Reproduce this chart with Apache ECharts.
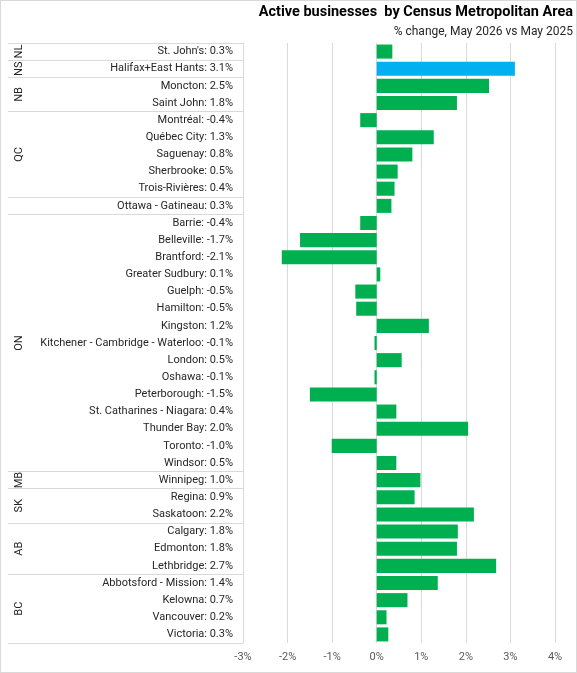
<!DOCTYPE html>
<html>
<head>
<meta charset="utf-8">
<script src="https://cdn.jsdelivr.net/npm/echarts@6/dist/echarts.min.js"></script>
<style>
  html, body { margin: 0; padding: 0; background: #fff; }
  #wrap { position: relative; width: 577px; height: 673px; }
  #chart { width: 577px; height: 673px; }
  #frame { position: absolute; left: 0; top: 0; width: 577px; height: 673px; box-sizing: border-box; border: 1px solid #d9d9d9; pointer-events: none; }
</style>
</head>
<body>
<div id="wrap"><div id="chart"></div><div id="frame"></div></div>
<script>
// Categories (top to bottom)
const cities = [
  "St. John's", "Halifax+East Hants", "Moncton", "Saint John",
  "Montréal", "Québec City", "Saguenay", "Sherbrooke", "Trois-Rivières",
  "Ottawa - Gatineau",
  "Barrie", "Belleville", "Brantford", "Greater Sudbury", "Guelph", "Hamilton",
  "Kingston", "Kitchener - Cambridge - Waterloo", "London", "Oshawa",
  "Peterborough", "St. Catharines - Niagara", "Thunder Bay", "Toronto", "Windsor",
  "Winnipeg", "Regina", "Saskatoon", "Calgary", "Edmonton", "Lethbridge",
  "Abbotsford - Mission", "Kelowna", "Vancouver", "Victoria"
];
// Bar lengths (% change)
const values = [
  0.35, 3.10, 2.52, 1.80,
  -0.37, 1.28, 0.80, 0.47, 0.40,
  0.33,
  -0.37, -1.72, -2.13, 0.08, -0.48, -0.46,
  1.17, -0.05, 0.56, -0.05,
  -1.50, 0.44, 2.05, -1.01, 0.44,
  0.98, 0.85, 2.18, 1.82, 1.80, 2.68,
  1.37, 0.69, 0.22, 0.26
];
// Percentages as printed in the category labels
const shownPct = [
  0.3, 3.1, 2.5, 1.8,
  -0.4, 1.3, 0.8, 0.5, 0.4,
  0.3,
  -0.4, -1.7, -2.1, 0.1, -0.5, -0.5,
  1.2, -0.1, 0.5, -0.1,
  -1.5, 0.4, 2.0, -1.0, 0.5,
  1.0, 0.9, 2.2, 1.8, 1.8, 2.7,
  1.4, 0.7, 0.2, 0.3
];
// Province groups (in order) and number of cities in each
const groupNames = ["NL", "NS", "NB", "QC", "", "ON", "MB", "SK", "AB", "BC"];
const groupSizes = [1, 1, 2, 5, 1, 15, 1, 2, 3, 4];
const highlighted = "Halifax+East Hants";
// X axis ticks
const xMin = -3, xMax = 4, xStep = 1;

const groupStarts = [];
const groupCenters = {};
let acc = 0;
groupSizes.forEach((s, i) => {
  groupStarts.push(acc);
  groupCenters[acc + s / 2] = groupNames[i];
  acc += s;
});

const FONT = 'Roboto';
const chart = echarts.init(document.getElementById('chart'), null, { renderer: 'canvas' });
chart.setOption({
  animation: false,
  textStyle: { fontFamily: FONT },
  title: [
    {
      text: 'Active businesses  by Census Metropolitan Area',
      right: 4, top: 5, padding: 0,
      textStyle: { fontFamily: FONT, fontSize: 14.5, fontWeight: 'bold', color: '#000' }
    },
    {
      text: '% change, May 2026 vs May 2025',
      right: 4, top: 26, padding: 0,
      textStyle: { fontFamily: FONT, fontSize: 12, fontWeight: 'normal', color: '#262626' }
    }
  ],
  grid: { left: 243, right: 22, top: 43, bottom: 30, containLabel: false },
  xAxis: {
    type: 'value', min: xMin, max: xMax, interval: xStep,
    axisLine: { show: false }, axisTick: { show: false },
    axisLabel: { formatter: '{value}%', color: '#595959', fontSize: 11, margin: 9, fontFamily: FONT },
    splitLine: { show: true, lineStyle: { color: '#d9d9d9', width: 1 } }
  },
  yAxis: [
    {
      type: 'category', data: cities, inverse: true, position: 'left',
      axisLine: { show: true, onZero: false, lineStyle: { color: '#d9d9d9' } },
      axisTick: { show: false },
      axisLabel: {
        interval: 0, margin: 10, color: '#262626', fontSize: 11, fontFamily: FONT,
        formatter: (v, i) => v + ': ' + shownPct[i].toFixed(1) + '%'
      },
      splitLine: { show: false }
    },
    {
      type: 'category', data: cities, inverse: true, position: 'left',
      axisLine: { show: false, onZero: false },
      axisLabel: { show: false },
      axisTick: {
        show: true, length: 235, alignWithLabel: false,
        interval: (idx) => groupStarts.indexOf(idx) >= 0,
        lineStyle: { color: '#d9d9d9', width: 1 }
      },
      splitLine: { show: false }
    },
    {
      type: 'value', min: 0, max: cities.length, interval: 0.5, inverse: true,
      position: 'left', offset: 218,
      axisLine: { show: false, onZero: false }, axisTick: { show: false },
      splitLine: { show: false },
      axisLabel: {
        rotate: 90, margin: 0, color: '#262626', fontSize: 11, fontFamily: FONT,
        showMinLabel: true, showMaxLabel: true,
        formatter: (v) => (groupCenters[v] !== undefined ? groupCenters[v] : '')
      }
    }
  ],
  series: [{
    type: 'bar',
    yAxisIndex: 0,
    barCategoryGap: '18%',
    data: values.map((v, i) => ({
      value: v,
      itemStyle: { color: cities[i] === highlighted ? '#00B0F0' : '#00B050' }
    }))
  }]
});
</script>
</body>
</html>
